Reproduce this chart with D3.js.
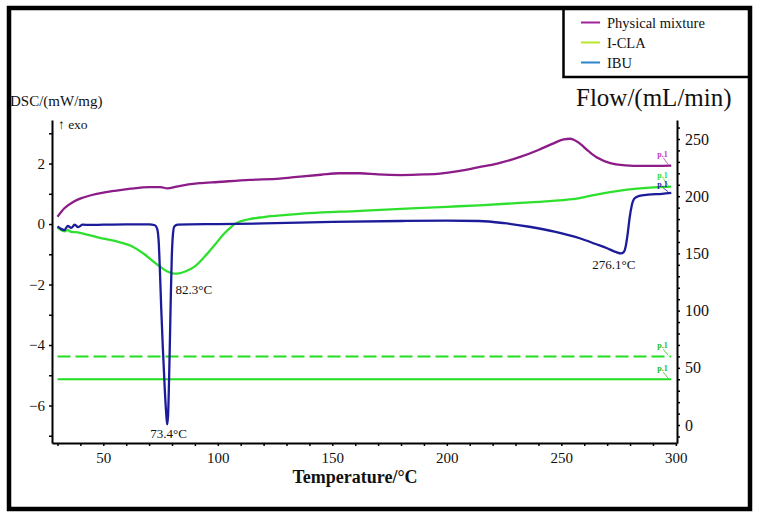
<!DOCTYPE html>
<html>
<head>
<meta charset="utf-8">
<script src="https://d3js.org/d3.v7.min.js"></script>
<style>
  html, body { margin: 0; padding: 0; background: #fff; }
  svg { display: block; }
  text { font-family: "Liberation Serif", "DejaVu Serif", serif; fill: #111; }
</style>
</head>
<body>
<svg id="canvas" width="761" height="518"></svg>
<script>
"use strict"

// DSC traces: [temperature °C, DSC mW/mg]
const physicalMixture = [
  [30, 0.24], [33, 0.52], [37, 0.74], [41, 0.87], [45, 0.96], [50, 1.04], [55, 1.1],
  [62, 1.17], [70, 1.22], [75, 1.22], [78, 1.18], [82, 1.24], [92, 1.35], [100, 1.39],
  [114, 1.46], [127, 1.5], [136, 1.57], [145, 1.63], [153, 1.68], [162, 1.68],
  [170, 1.64], [180, 1.62], [190, 1.64], [197, 1.67], [205, 1.75], [214, 1.88],
  [222, 2.0], [232, 2.22], [240, 2.45], [246, 2.65], [251, 2.8], [254, 2.82],
  [257, 2.72], [262, 2.4], [266, 2.18], [271, 2.02], [278, 1.94], [285, 1.92], [298, 1.93]
]

const iCLA = [
  [30, -0.12], [31.5, -0.2], [33, -0.24], [34.5, -0.2], [36, -0.26], [38, -0.27],
  [42, -0.33], [48, -0.45], [55, -0.56], [62, -0.72], [68, -1.0], [72, -1.25], [75, -1.42],
  [78, -1.57], [81, -1.64], [83, -1.63], [86, -1.56], [90, -1.4], [94, -1.1],
  [98.8, -0.68], [102, -0.38], [105, -0.15], [108, 0.03], [113, 0.15], [120, 0.23],
  [130, 0.3], [140, 0.36], [160, 0.43], [180, 0.5], [200, 0.57], [214, 0.62],
  [230, 0.69], [245, 0.76], [258, 0.86], [267, 1.0], [275, 1.1], [283, 1.17],
  [292, 1.22], [298, 1.24]
]

const ibu = [
  [30, -0.08], [31.5, -0.16], [33, -0.2], [34.5, -0.06], [36, -0.13], [37.5, -0.02],
  [39, -0.1], [41, -0.02], [44, -0.03], [50, -0.02], [60, -0.01], [70, -0.01],
  [72.5, -0.04], [73.5, -0.15], [74.2, -0.6], [74.7, -1.5], [75.3, -2.8], [76, -4.1],
  [76.8, -5.4], [77.5, -6.3], [77.9, -6.62], [78.3, -6.3], [78.7, -5.2], [79.1, -3.8],
  [79.5, -2.3], [79.9, -1.1], [80.4, -0.35], [81, -0.08], [82.5, -0.02], [100, 0],
  [120, 0.02], [150, 0.07], [180, 0.1], [200, 0.11], [214, 0.1], [225, 0.03],
  [236, -0.09], [247, -0.25], [258, -0.47], [265, -0.66], [270, -0.8], [274, -0.93],
  [276, -0.97], [277.3, -0.92], [278.2, -0.7], [279, -0.3], [279.8, 0.2], [280.7, 0.6],
  [282, 0.85], [284, 0.93], [288, 0.97], [294, 1.0], [298, 1.03]
]

// purge gas flow, right axis (mL/min)
const flowTemps = [30, 298]
const flowDashed = [60, 60]
const flowSolid = [40, 40]

const xTicks = [50, 100, 150, 200, 250, 300]
const dscTicks = [-6, -4, -2, 0, 2]
const flowTicks = [0, 50, 100, 150, 200, 250]

const legendNames = ["Physical mixture", "I-CLA", "IBU"]
const legendColors = ["#a0219c", "#b8e62a", "#2a86c8"]

const peaks = [
  { text: "82.3°C", t: 81.5, v: -2.3 },
  { text: "73.4°C", t: 70.5, v: -7.07 },
  { text: "276.1°C", t: 263.5, v: -1.5 }
]

const SERIF = "'Liberation Serif', 'DejaVu Serif', serif"

function draw() {
  const svg = d3.select("#canvas")

  const x = d3.scaleLinear().domain([27.6, 300.5]).range([52, 677])
  const yL = d3.scaleLinear().domain([-7.24, 3.44]).range([443, 120])
  const yR = d3.scaleLinear().domain([-15.7, 266.6]).range([443, 120])

  // outer frame + legend box
  svg.append("rect")
    .attr("x", 9).attr("y", 8).attr("width", 741).attr("height", 501)
    .attr("fill", "none").attr("stroke", "#000").attr("stroke-width", 4.5)
  svg.append("path")
    .attr("d", "M563.5,8 V77 H750")
    .attr("fill", "none").attr("stroke", "#000").attr("stroke-width", 2.5)

  const legend = svg.append("g")
  legendNames.forEach((name, i) => {
    const yy = 22.5 + i * 20
    legend.append("line")
      .attr("x1", 581).attr("x2", 600).attr("y1", yy).attr("y2", yy)
      .attr("stroke", legendColors[i]).attr("stroke-width", 2)
    legend.append("text")
      .attr("x", 607).attr("y", yy + 5)
      .style("font-size", "14.5px")
      .text(name)
  })

  // axes
  function styleAxis(g) {
    g.attr("font-family", SERIF)
    g.selectAll("path.domain").attr("stroke", "#000").attr("stroke-width", 2)
    g.selectAll(".tick line").attr("stroke", "#000").attr("stroke-width", 1.5)
    g.selectAll(".tick text").style("font-family", SERIF).style("fill", "#111")
  }

  const xMinor = d3.range(30, 301, 10)
  svg.append("g").attr("transform", "translate(0,443)")
    .call(d3.axisBottom(x).tickValues(xMinor).tickSize(3).tickSizeOuter(0).tickFormat(""))
    .call(styleAxis)
  svg.append("g").attr("transform", "translate(0,443)")
    .call(d3.axisBottom(x).tickValues(xTicks).tickSize(0).tickPadding(9).tickSizeOuter(0))
    .call(styleAxis)
    .call(g => g.select("path.domain").remove())
    .selectAll(".tick text").style("font-size", "15px")

  svg.append("g").attr("transform", "translate(52,0)")
    .call(d3.axisLeft(yL).tickValues(d3.range(-7, 4, 1)).tickSize(3).tickSizeOuter(0).tickFormat(""))
    .call(styleAxis)
  svg.append("g").attr("transform", "translate(52,0)")
    .call(d3.axisLeft(yL).tickValues(dscTicks).tickSize(0).tickPadding(7).tickSizeOuter(0))
    .call(styleAxis)
    .call(g => g.select("path.domain").remove())
    .selectAll(".tick text").style("font-size", "15px")

  svg.append("g").attr("transform", "translate(677,0)")
    .call(d3.axisRight(yR).tickValues(d3.range(-10, 261, 10)).tickSize(3).tickSizeOuter(0).tickFormat(""))
    .call(styleAxis)
  svg.append("g").attr("transform", "translate(677,0)")
    .call(d3.axisRight(yR).tickValues(flowTicks).tickSize(0).tickPadding(8).tickSizeOuter(0))
    .call(styleAxis)
    .call(g => g.select("path.domain").remove())
    .selectAll(".tick text").style("font-size", "16px")

  // axis titles
  svg.append("text").attr("x", 10).attr("y", 106).style("font-size", "15px").text("DSC/(mW/mg)")
  svg.append("text").attr("x", 58).attr("y", 129).style("font-size", "13.5px").text("↑ exo")
  svg.append("text").attr("x", 576).attr("y", 106).style("font-size", "25px").text("Flow/(mL/min)")
  svg.append("text").attr("x", 355).attr("y", 483).attr("text-anchor", "middle")
    .style("font-size", "18px").style("font-weight", "bold").text("Temperature/°C")

  // flow lines
  const flowLine = d3.line().x(d => x(d[0])).y(d => yR(d[1]))
  svg.append("path")
    .attr("d", flowLine(flowTemps.map((t, i) => [t, flowDashed[i]])))
    .attr("fill", "none").attr("stroke", "#22dd22").attr("stroke-width", 2)
    .attr("stroke-dasharray", "13,5")
  svg.append("path")
    .attr("d", flowLine(flowTemps.map((t, i) => [t, flowSolid[i]])))
    .attr("fill", "none").attr("stroke", "#22dd22").attr("stroke-width", 2)

  // DSC curves
  const line = d3.line().x(d => x(d[0])).y(d => yL(d[1])).curve(d3.curveMonotoneX)
  const curves = [
    { data: physicalMixture, color: "#8c1c88" },
    { data: iCLA, color: "#2ee02e" },
    { data: ibu, color: "#1c1c9a" }
  ]
  svg.append("g").selectAll("path")
    .data(curves)
    .enter().append("path")
      .attr("d", c => line(c.data))
      .attr("fill", "none")
      .attr("stroke", c => c.color)
      .attr("stroke-width", 2.3)
      .attr("stroke-linejoin", "round")

  // small end-of-segment marks
  const ends = [
    { t: 298, y: yL(physicalMixture[physicalMixture.length - 1][1]), color: "#c03cc0", dy: -9 },
    { t: 298, y: yL(iCLA[iCLA.length - 1][1]), color: "#2ee02e", dy: -9 },
    { t: 298, y: yL(ibu[ibu.length - 1][1]), color: "#1c1c9a", dy: -6 },
    { t: 298, y: yR(flowDashed[1]), color: "#22bb22", dy: -8 },
    { t: 298, y: yR(flowSolid[1]), color: "#22bb22", dy: -8 }
  ]
  ends.forEach(e => {
    svg.append("text")
      .attr("x", x(e.t) - 14).attr("y", e.y + e.dy)
      .style("font-size", "8px").style("font-weight", "bold").style("fill", e.color)
      .text("p.1")
    svg.append("line")
      .attr("x1", x(e.t) - 8).attr("y1", e.y + e.dy + 1)
      .attr("x2", x(e.t) - 3).attr("y2", e.y - 1)
      .attr("stroke", e.color).attr("stroke-width", 0.8)
  })

  // peak labels
  svg.append("g").selectAll("text")
    .data(peaks)
    .enter().append("text")
      .attr("x", d => x(d.t))
      .attr("y", d => yL(d.v))
      .style("font-size", "13px")
      .text(d => d.text)
}

draw()
</script>
</body>
</html>
